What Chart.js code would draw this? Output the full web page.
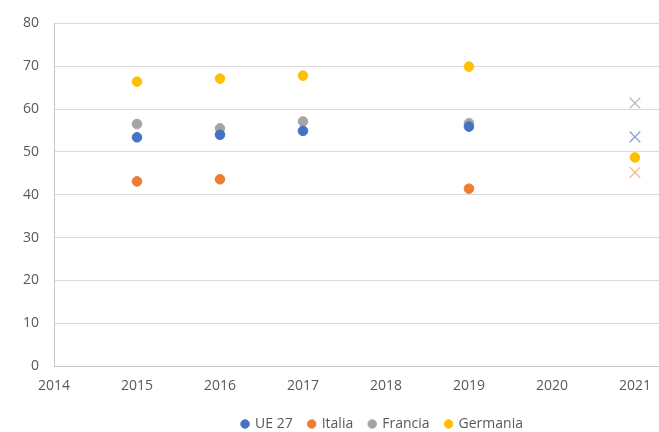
<!DOCTYPE html>
<html>
<head>
<meta charset="utf-8">
<script src="https://cdn.jsdelivr.net/npm/chart.js@4"></script>
<style>
  html, body { margin: 0; padding: 0; background: #ffffff; }
  #wrap { width: 659px; height: 432px; }
</style>
</head>
<body>
<div id="wrap"><canvas id="chart"></canvas></div>
<script>
// Survey years and values per country
const years = [2015, 2016, 2017, 2019];
const ue27 = [53.4, 54.0, 54.9, 55.9];
const italia = [43.1, 43.6, null, 41.4];
const francia = [56.5, 55.5, 57.1, 56.7];
const germania = [66.4, 67.1, 67.8, 69.9];

// 2021 values (crosses = estimates, Germania measured)
const year2021 = 2021;
const ue27_2021 = 53.5;
const italia_2021 = 45.2;
const francia_2021 = 61.4;
const germania_2021 = 48.7;

const xTicks = [2014, 2015, 2016, 2017, 2018, 2019, 2020, 2021];
const yTicks = [0, 10, 20, 30, 40, 50, 60, 70, 80];

const textColor = '#595959';
const gridColor = '#d9d9d9';
const axisColor = '#c6c6c6';
const fontFamily = "'Open Sans', 'Liberation Sans', sans-serif";

Chart.defaults.font.family = fontFamily;
Chart.defaults.font.size = 14;
Chart.defaults.color = textColor;

function toPoints(values) {
    return years
        .map((y, i) => ({ x: y, y: values[i] }))
        .filter(p => p.y !== null);
}

function dotSeries(label, values, color) {
    return {
        label,
        data: toPoints(values),
        backgroundColor: color,
        borderColor: color,
        pointStyle: 'circle',
        pointRadius: 4.8,
        pointHoverRadius: 4.8
    };
}

function crossSeries(label, value, color) {
    return {
        label,
        data: [{ x: year2021, y: value }],
        backgroundColor: color,
        borderColor: color,
        borderWidth: 1.3,
        pointStyle: 'crossRot',
        pointRadius: 7.5,
        pointHoverRadius: 7.5
    };
}

const datasets = [
    dotSeries('UE 27', ue27, '#4472c4'),
    dotSeries('Italia', italia, '#ed7d31'),
    dotSeries('Francia', francia, '#a5a5a5'),
    dotSeries('Germania', germania, '#ffc000'),
    crossSeries('UE 27 2021', ue27_2021, 'rgba(68, 114, 196, 0.65)'),
    crossSeries('Italia 2021', italia_2021, 'rgba(237, 125, 49, 0.55)'),
    crossSeries('Francia 2021', francia_2021, 'rgba(165, 165, 165, 0.8)'),
    {
        label: 'Germania 2021',
        data: [{ x: year2021, y: germania_2021 }],
        backgroundColor: '#ffc000',
        borderColor: '#ffc000',
        pointStyle: 'circle',
        pointRadius: 4.8,
        pointHoverRadius: 4.8
    }
];

// legend sits a bit right of centre and takes less height than default
const legendTweaks = {
    id: 'legendTweaks',
    beforeInit(chart) {
        const legend = chart.legend;
        const fit = legend.fit;
        legend.fit = function () {
            fit.call(this);
            this.height = 31;
        };
    },
    afterLayout(chart) {
        chart.legend.left += 53;
        chart.legend.right += 53;
    }
};

new Chart(document.getElementById('chart'), {
    type: 'scatter',
    data: { datasets },
    options: {
        responsive: true,
        maintainAspectRatio: false,
        animation: false,
        layout: {
            autoPadding: false,
            padding: { left: 0, right: 0, top: 14, bottom: 0 }
        },
        plugins: {
            legend: {
                position: 'bottom',
                labels: {
                    usePointStyle: true,
                    pointStyle: 'circle',
                    boxWidth: 6,
                    boxHeight: 6,
                    padding: 16,
                    color: textColor,
                    font: { size: 14 },
                    filter: item => item.datasetIndex < 4
                }
            },
            tooltip: { enabled: false }
        },
        scales: {
            x: {
                type: 'linear',
                min: 2014,
                max: 2021.29,
                afterBuildTicks: axis => {
                    axis.ticks = xTicks.map(v => ({ value: v }));
                },
                afterFit: axis => {
                    axis.height = 35;
                    axis.paddingLeft = 0;
                    axis.paddingRight = 0;
                },
                grid: { display: false, drawTicks: false },
                border: { color: axisColor, width: 1 },
                ticks: {
                    padding: 12,
                    color: textColor,
                    callback: v => String(v)
                }
            },
            y: {
                min: 0,
                max: 80,
                afterBuildTicks: axis => {
                    axis.ticks = yTicks.map(v => ({ value: v }));
                },
                afterFit: axis => {
                    axis.width = 54;
                },
                grid: { color: gridColor, drawTicks: false },
                border: { color: axisColor, width: 1 },
                ticks: {
                    padding: 15,
                    color: textColor
                }
            }
        }
    },
    plugins: [legendTweaks]
});
</script>
</body>
</html>
